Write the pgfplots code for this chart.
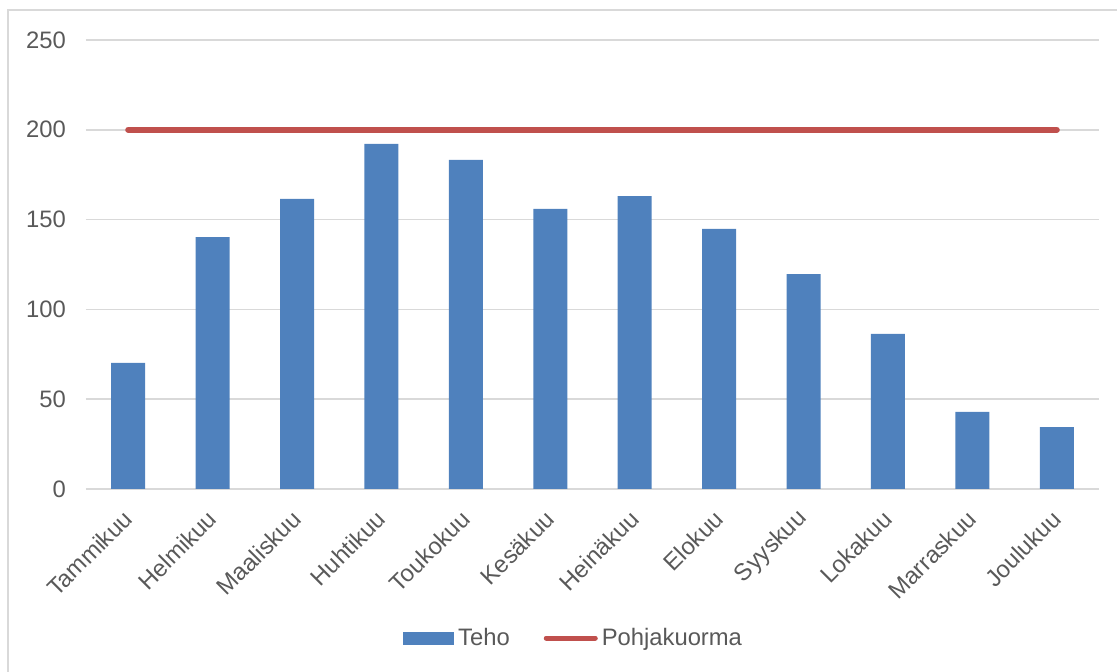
\documentclass[border=0pt]{standalone}
\usepackage{fontspec}
\setmainfont{Liberation Sans}
\usepackage{pgfplots}
\pgfplotsset{compat=1.18}
\definecolor{barblue}{HTML}{4F81BD}
\definecolor{linered}{HTML}{C0504D}
\definecolor{gridgray}{HTML}{D9D9D9}
\definecolor{txtgray}{HTML}{595959}
\begin{document}
\begin{tikzpicture}
\useasboundingbox (-43pt,-91.5pt) rectangle (515.5pt,244.5pt);
\begin{scope}
\clip (-43pt,-91.5pt) rectangle (515.5pt,244.5pt);
\draw[gridgray, line width=0.7pt] (-39pt,-120pt) rectangle (540pt,239.5pt);
\end{scope}
\begin{axis}[
  at={(0pt,0pt)}, anchor=south west,
  scale only axis, width=506.5pt, height=224.5pt,
  xmin=-0.5, xmax=11.5, ymin=0, ymax=250,
  ytick={0,50,100,150,200,250},
  xtick={0,1,2,3,4,5,6,7,8,9,10,11},
  xticklabels={Tammikuu,Helmikuu,Maaliskuu,Huhtikuu,Toukokuu,Kesäkuu,Heinäkuu,Elokuu,Syyskuu,Lokakuu,Marraskuu,Joulukuu},
  axis lines*=left,
  x axis line style={gridgray, line width=0.75pt, -},
  y axis line style={draw=none},
  major tick length=0pt,
  ymajorgrids, grid style={gridgray, line width=0.75pt},
  /pgf/number format/assume math mode=true,
  tick label style={font=\fontsize{11.9}{14}\selectfont, text=txtgray},
  yticklabel style={xshift=-6.5pt},
  xticklabel style={rotate=45, anchor=east, yshift=-9.1pt, xshift=-5.8pt},
  legend style={at={(0.4823,-0.332)}, anchor=center, legend columns=2, draw=none,
    font=\fontsize{11.9}{14}\selectfont, text=txtgray, inner sep=0pt,
    /tikz/every even column/.append style={column sep=15pt}},
  legend cell align=left,
]
\addplot[ybar, bar width=17pt, fill=barblue, draw=none,
  legend image code/.code={\fill[barblue] (-1.5pt,-3.25pt) rectangle (24pt,3.25pt);}]
  coordinates {(0,70.2) (1,140.3) (2,161.5) (3,192.1) (4,183.2) (5,155.9) (6,163.1) (7,144.8) (8,119.7) (9,86.3) (10,42.9) (11,34.5)};
\addlegendentry{Teho}
\addplot[linered, line width=3pt, line cap=round,
  legend image code/.code={\draw[linered, line width=2.5pt] (-1pt,0pt) -- (23.5pt,0pt);}]
  coordinates {(0,200) (11,200)};
\addlegendentry{Pohjakuorma}
\end{axis}
\end{tikzpicture}
\end{document}
